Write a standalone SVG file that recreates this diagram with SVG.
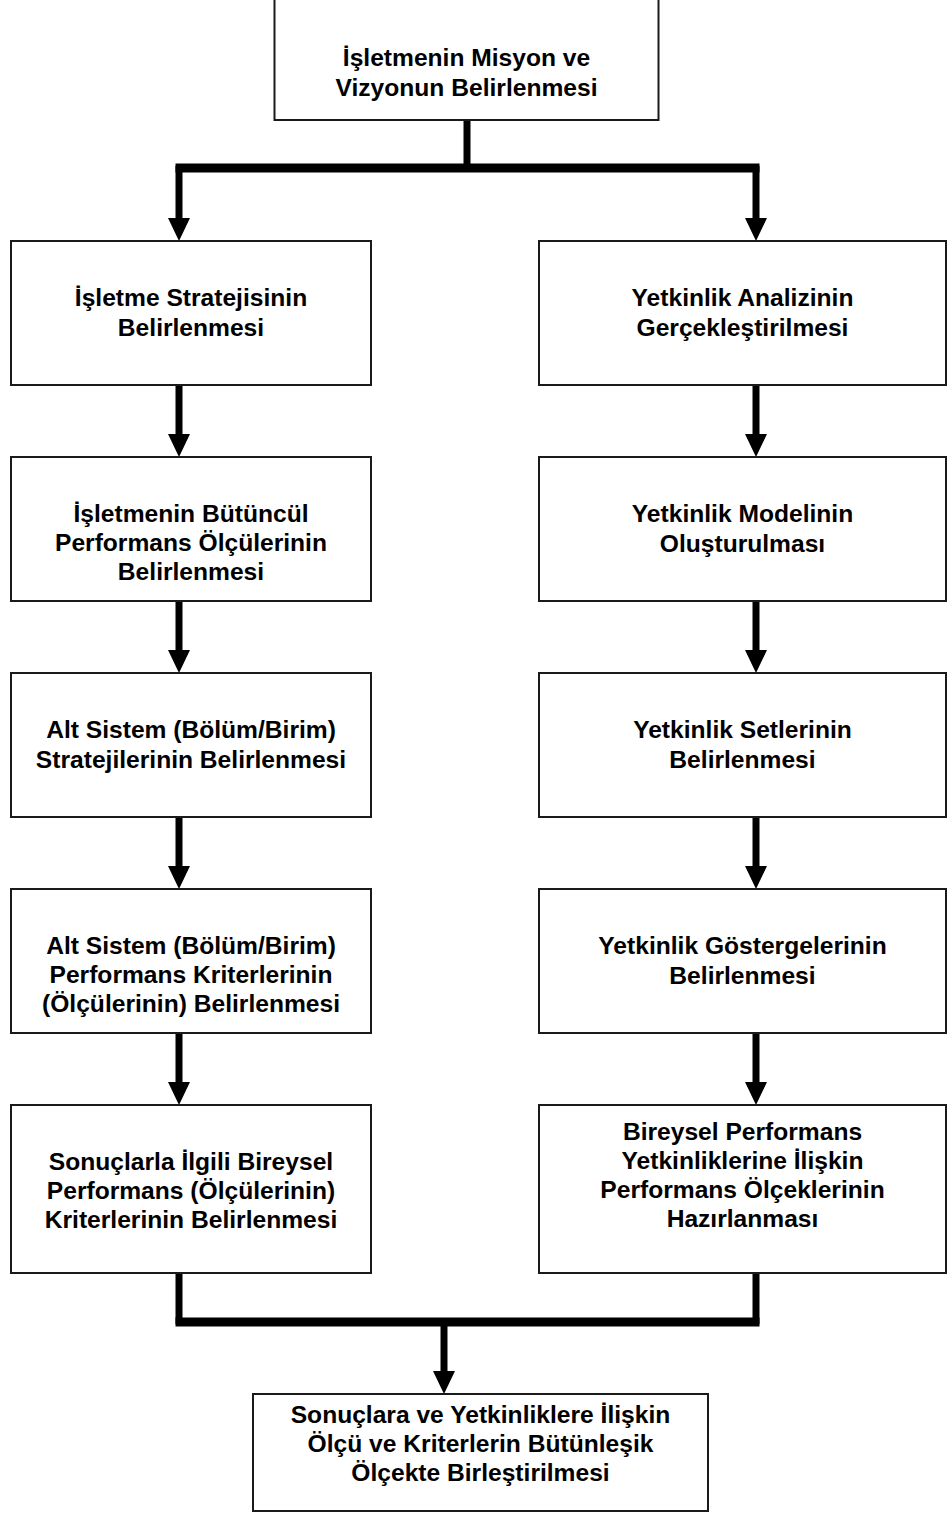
<svg xmlns="http://www.w3.org/2000/svg" width="947" height="1513" viewBox="0 0 947 1513">
  <style>
    .box { fill: #ffffff; stroke: #1a1a1a; stroke-width: 2; }
    .lbl { font-family: "Liberation Sans", Arial, sans-serif; font-weight: bold; font-size: 24.6px; fill: #000; text-anchor: middle; }
    .shaft { stroke: #000; stroke-width: 7; fill: none; }
    .bar { stroke: #000; stroke-width: 9; fill: none; }
  </style>
  <defs>
    <marker id="head" viewBox="0 0 23 22" refX="2" refY="11" markerWidth="23" markerHeight="22" markerUnits="userSpaceOnUse" orient="auto">
      <path d="M0,0 L23,11 L0,22 z" fill="#000"/>
    </marker>
  </defs>
  <rect width="947" height="1513" fill="#ffffff"/>

  <!-- connectors -->
  <g id="connectors">
    <line class="shaft" x1="467" y1="120" x2="467" y2="168"/>
    <line class="bar" x1="175.5" y1="168" x2="759.5" y2="168"/>
    <line class="shaft" x1="179" y1="166" x2="179" y2="220" marker-end="url(#head)"/>
    <line class="shaft" x1="756" y1="166" x2="756" y2="220" marker-end="url(#head)"/>

    <line class="shaft" x1="179" y1="385" x2="179" y2="436" marker-end="url(#head)"/>
    <line class="shaft" x1="179" y1="601" x2="179" y2="652" marker-end="url(#head)"/>
    <line class="shaft" x1="179" y1="817" x2="179" y2="868" marker-end="url(#head)"/>
    <line class="shaft" x1="179" y1="1033" x2="179" y2="1084" marker-end="url(#head)"/>

    <line class="shaft" x1="756" y1="385" x2="756" y2="436" marker-end="url(#head)"/>
    <line class="shaft" x1="756" y1="601" x2="756" y2="652" marker-end="url(#head)"/>
    <line class="shaft" x1="756" y1="817" x2="756" y2="868" marker-end="url(#head)"/>
    <line class="shaft" x1="756" y1="1033" x2="756" y2="1084" marker-end="url(#head)"/>

    <line class="shaft" x1="179" y1="1273" x2="179" y2="1324"/>
    <line class="shaft" x1="756" y1="1273" x2="756" y2="1324"/>
    <line class="bar" x1="175.5" y1="1322" x2="759.5" y2="1322"/>
    <line class="shaft" x1="444" y1="1320" x2="444" y2="1373" marker-end="url(#head)"/>
  </g>

  <!-- top node -->
  <g id="mission">
    <rect class="box" x="274.5" y="-1" width="384" height="121"/>
    <text class="lbl" x="466.5" y="66">İşletmenin Misyon ve</text>
    <text class="lbl" x="466.5" y="96">Vizyonun Belirlenmesi</text>
  </g>

  <!-- left column -->
  <g id="strategy">
    <rect class="box" x="11" y="241" width="360" height="144"/>
    <text class="lbl" x="191" y="306">İşletme Stratejisinin</text>
    <text class="lbl" x="191" y="336">Belirlenmesi</text>
  </g>
  <g id="overall-measures">
    <rect class="box" x="11" y="457" width="360" height="144"/>
    <text class="lbl" x="191" y="522">İşletmenin Bütüncül</text>
    <text class="lbl" x="191" y="551">Performans Ölçülerinin</text>
    <text class="lbl" x="191" y="580">Belirlenmesi</text>
  </g>
  <g id="subsystem-strategy">
    <rect class="box" x="11" y="673" width="360" height="144"/>
    <text class="lbl" x="191" y="738">Alt Sistem (Bölüm/Birim)</text>
    <text class="lbl" x="191" y="768">Stratejilerinin Belirlenmesi</text>
  </g>
  <g id="subsystem-criteria">
    <rect class="box" x="11" y="889" width="360" height="144"/>
    <text class="lbl" x="191" y="954">Alt Sistem (Bölüm/Birim)</text>
    <text class="lbl" x="191" y="983">Performans Kriterlerinin</text>
    <text class="lbl" x="191" y="1012">(Ölçülerinin) Belirlenmesi</text>
  </g>
  <g id="individual-results">
    <rect class="box" x="11" y="1105" width="360" height="168"/>
    <text class="lbl" x="191" y="1170">Sonuçlarla İlgili Bireysel</text>
    <text class="lbl" x="191" y="1199">Performans (Ölçülerinin)</text>
    <text class="lbl" x="191" y="1228">Kriterlerinin Belirlenmesi</text>
  </g>

  <!-- right column -->
  <g id="competency-analysis">
    <rect class="box" x="539" y="241" width="407" height="144"/>
    <text class="lbl" x="742.5" y="306">Yetkinlik Analizinin</text>
    <text class="lbl" x="742.5" y="336">Gerçekleştirilmesi</text>
  </g>
  <g id="competency-model">
    <rect class="box" x="539" y="457" width="407" height="144"/>
    <text class="lbl" x="742.5" y="522">Yetkinlik Modelinin</text>
    <text class="lbl" x="742.5" y="552">Oluşturulması</text>
  </g>
  <g id="competency-sets">
    <rect class="box" x="539" y="673" width="407" height="144"/>
    <text class="lbl" x="742.5" y="738">Yetkinlik Setlerinin</text>
    <text class="lbl" x="742.5" y="768">Belirlenmesi</text>
  </g>
  <g id="competency-indicators">
    <rect class="box" x="539" y="889" width="407" height="144"/>
    <text class="lbl" x="742.5" y="954">Yetkinlik Göstergelerinin</text>
    <text class="lbl" x="742.5" y="984">Belirlenmesi</text>
  </g>
  <g id="competency-scales">
    <rect class="box" x="539" y="1105" width="407" height="168"/>
    <text class="lbl" x="742.5" y="1140">Bireysel Performans</text>
    <text class="lbl" x="742.5" y="1169">Yetkinliklerine İlişkin</text>
    <text class="lbl" x="742.5" y="1198">Performans Ölçeklerinin</text>
    <text class="lbl" x="742.5" y="1227">Hazırlanması</text>
  </g>

  <!-- merged node -->
  <g id="integrated-scale">
    <rect class="box" x="253" y="1394" width="455" height="117"/>
    <text class="lbl" x="480.5" y="1423">Sonuçlara ve Yetkinliklere İlişkin</text>
    <text class="lbl" x="480.5" y="1452">Ölçü ve Kriterlerin Bütünleşik</text>
    <text class="lbl" x="480.5" y="1481">Ölçekte Birleştirilmesi</text>
  </g>
</svg>
